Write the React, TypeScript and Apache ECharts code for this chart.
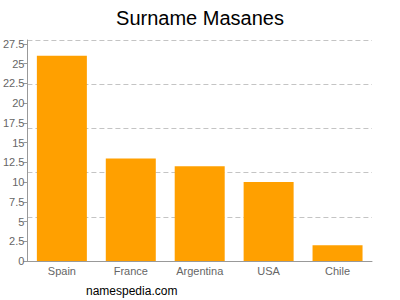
import React, { useEffect, useRef } from "react";
import * as echarts from "echarts";

const categories = ["Spain", "France", "Argentina", "USA", "Chile"];
const values = [26, 13, 12, 10, 2];
const titleText = "Surname Masanes";
const footerText = "namespedia.com";

export default function App() {
  const ref = useRef<HTMLDivElement>(null);
  useEffect(() => {
    if (!ref.current) return;
    const chart = echarts.init(ref.current, null, { renderer: "svg" });
    chart.setOption({
      animation: false,
      backgroundColor: "#ffffff",
      title: {
        text: titleText,
        left: "center",
        top: 3,
        textStyle: { fontFamily: "Liberation Sans", fontSize: 20, fontWeight: "normal", color: "#000" },
      },
      graphic: [
        {
          type: "text",
          left: 86,
          top: 285,
          style: { text: footerText, font: "12px 'Liberation Sans'", fill: "#000" },
        },
      ],
      grid: { left: 27, right: 28, top: 40, bottom: 39, containLabel: false },
      xAxis: {
        type: "category",
        data: categories,
        axisLine: { lineStyle: { color: "#999" } },
        axisTick: { alignWithLabel: true, length: 4, lineStyle: { color: "#999" } },
        axisLabel: { color: "#666", fontFamily: "Liberation Sans", fontSize: 11, margin: 4 },
      },
      yAxis: [
        {
          type: "value",
          min: 0,
          max: 28,
          interval: 2.5,
          axisLine: { show: true, lineStyle: { color: "#999" } },
          axisTick: { show: true, length: 4, lineStyle: { color: "#999" } },
          axisLabel: {
            color: "#666",
            fontFamily: "Liberation Sans",
            fontSize: 11,
            margin: 3,
            showMaxLabel: false,
            formatter: (v: number) => (v > 27.6 ? "" : String(v)),
          },
          splitLine: { show: false },
        },
        {
          type: "value",
          min: 0,
          max: 28,
          interval: 5.6,
          position: "left",
          axisLine: { show: false },
          axisTick: { show: false },
          axisLabel: { show: false },
          splitLine: { show: true, lineStyle: { color: "#c4c4c4", type: [5, 3], width: 1 } },
        },
      ],
      series: [
        {
          type: "bar",
          data: values,
          barWidth: 50,
          itemStyle: { color: "#ffa000" },
          yAxisIndex: 0,
        },
      ],
    });
    return () => chart.dispose();
  }, []);
  return <div ref={ref} style={{ width: 400, height: 300, position: "fixed", left: 0, top: 0 }} />;
}
